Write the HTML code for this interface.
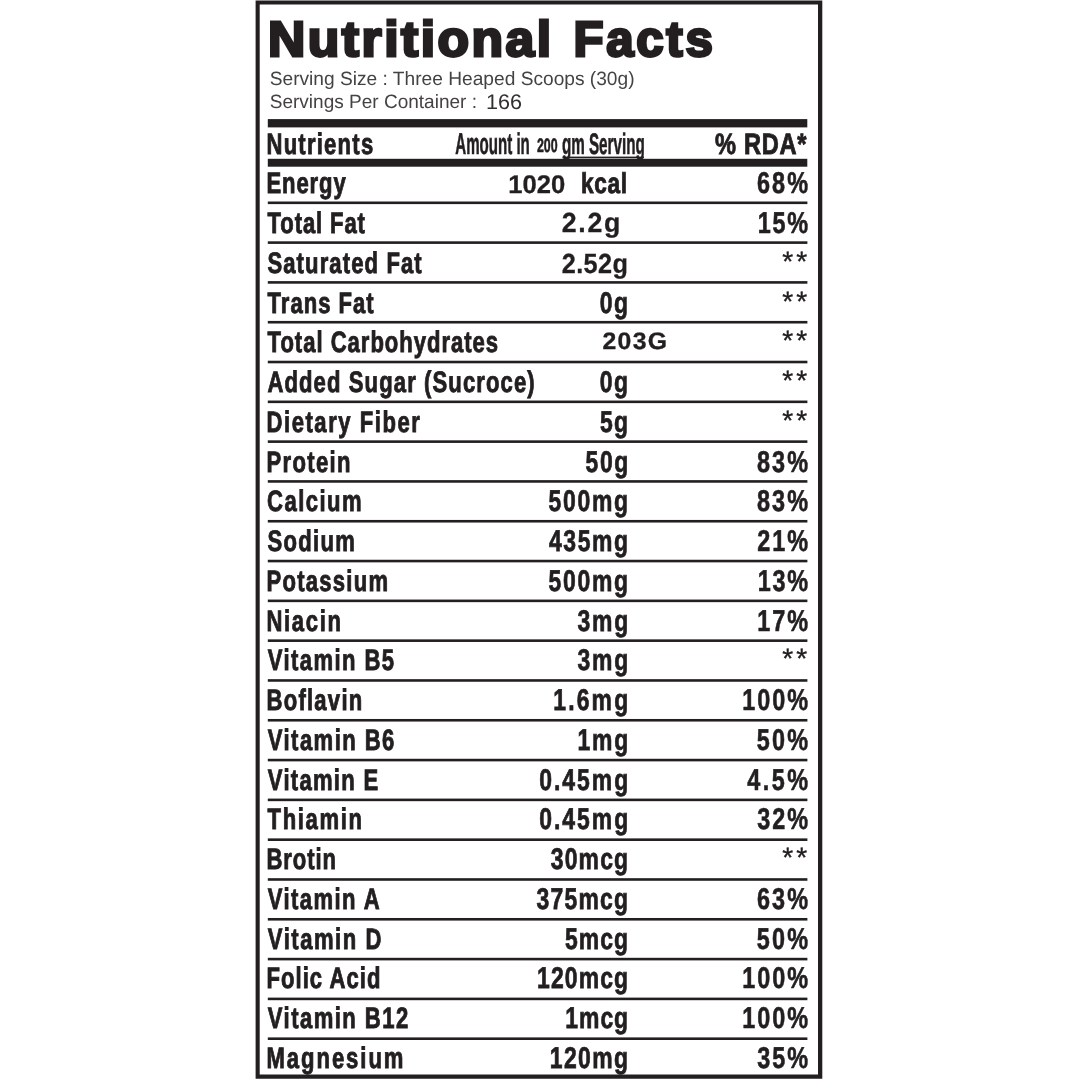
<!DOCTYPE html>
<html lang="en"><head><meta charset="utf-8"><title>Nutritional Facts</title>
<style>
html,body{margin:0;padding:0;background:#fff;}
body{width:1080px;height:1080px;position:relative;overflow:hidden;}
</style></head><body>

<svg width="1080" height="1080" viewBox="0 0 1080 1080" font-family="'Liberation Sans',Arial,Helvetica,sans-serif" font-weight="bold" text-rendering="geometricPrecision" fill="#231f20" style="position:absolute;left:0;top:0;white-space:pre">
<path fill-rule="evenodd" d="M255.6 0.45H822.3V1078.7H255.6Z M259.7 4.4V1074.4H818.0V4.4Z"/>
<rect x="267.80" y="119.10" width="539.50" height="8.30"/>
<rect x="267.80" y="158.80" width="539.50" height="7.90"/>
<rect x="267.80" y="201.50" width="539.60" height="2.60"/>
<rect x="267.80" y="241.31" width="539.60" height="2.60"/>
<rect x="267.80" y="281.11" width="539.60" height="2.60"/>
<rect x="267.80" y="320.92" width="539.60" height="2.60"/>
<rect x="267.80" y="360.72" width="539.60" height="2.60"/>
<rect x="267.80" y="400.53" width="539.60" height="2.60"/>
<rect x="267.80" y="440.33" width="539.60" height="2.60"/>
<rect x="267.80" y="480.13" width="539.60" height="2.60"/>
<rect x="267.80" y="519.94" width="539.60" height="2.60"/>
<rect x="267.80" y="559.75" width="539.60" height="2.60"/>
<rect x="267.80" y="599.55" width="539.60" height="2.60"/>
<rect x="267.80" y="639.36" width="539.60" height="2.60"/>
<rect x="267.80" y="679.16" width="539.60" height="2.60"/>
<rect x="267.80" y="718.97" width="539.60" height="2.60"/>
<rect x="267.80" y="758.77" width="539.60" height="2.60"/>
<rect x="267.80" y="798.58" width="539.60" height="2.60"/>
<rect x="267.80" y="838.38" width="539.60" height="2.60"/>
<rect x="267.80" y="878.18" width="539.60" height="2.60"/>
<rect x="267.80" y="917.99" width="539.60" height="2.60"/>
<rect x="267.80" y="957.80" width="539.60" height="2.60"/>
<rect x="267.80" y="997.60" width="539.60" height="2.60"/>
<rect x="267.80" y="1037.40" width="539.60" height="2.60"/>
<rect x="562.40" y="156.60" width="81.50" height="1.70"/>
<text transform="translate(268.02,56) scale(1.0400,1)" font-size="49.7" stroke="#231f20" stroke-width="2.8" letter-spacing="2.383">Nutritional</text>
<text transform="translate(573.52,56) scale(0.9900,1)" font-size="49.7" stroke="#231f20" stroke-width="2.8" letter-spacing="2.708">Facts</text>
<text transform="translate(269.71,85) scale(0.9934,1)" font-size="19.3" font-weight="normal" fill="#454243">Serving Size : Three Heaped Scoops (30g)</text>
<text transform="translate(269.71,108) scale(0.9867,1)" font-size="19.3" font-weight="normal" fill="#454243">Servings Per Container :</text>
<text transform="translate(486.07,109) scale(1.0182,1)" font-size="21.2" font-weight="normal" fill="#333031">166</text>
<text transform="translate(266.48,154) scale(0.7450,1)" font-size="29.6" stroke="#231f20" stroke-width="0.9" letter-spacing="1.663">Nutrients</text>
<text transform="translate(455.25,154) scale(0.5026,1)" font-size="30.0" stroke="#231f20" stroke-width="0.6">Amount in</text>
<text transform="translate(536.98,152) scale(0.6349,1)" font-size="19.5" stroke="#231f20" stroke-width="0.6">200</text>
<text transform="translate(561.89,154) scale(0.5142,1)" font-size="29.6" stroke="#231f20" stroke-width="0.6">gm Serving</text>
<text transform="translate(715.00,154) scale(0.7974,1)" font-size="29.6" stroke="#231f20" stroke-width="0.9" letter-spacing="0.900">% RDA*</text>
<text transform="translate(266.48,193) scale(0.7450,1)" font-size="29.6" stroke="#231f20" stroke-width="0.9" letter-spacing="1.197">Energy</text>
<text transform="translate(757.01,193) scale(0.7800,1)" font-size="30.0" stroke="#231f20" stroke-width="0.6" letter-spacing="2.676">68%</text>
<text transform="translate(267.60,233) scale(0.7450,1)" font-size="29.6" stroke="#231f20" stroke-width="0.9" letter-spacing="1.186">Total Fat</text>
<text transform="translate(757.63,233) scale(0.7800,1)" font-size="30.0" stroke="#231f20" stroke-width="0.6" letter-spacing="2.282">15%</text>
<text transform="translate(267.41,273) scale(0.7450,1)" font-size="29.6" stroke="#231f20" stroke-width="0.9" letter-spacing="1.498">Saturated Fat</text>
<text transform="translate(782.35,271) scale(1.0062,1)" font-size="28.0" font-weight="normal" stroke="#231f20" stroke-width="0.35" letter-spacing="3.000">**</text>
<text transform="translate(267.60,313) scale(0.7450,1)" font-size="29.6" stroke="#231f20" stroke-width="0.9" letter-spacing="1.350">Trans Fat</text>
<text transform="translate(599.83,313) scale(0.7650,1)" font-size="30.0" stroke="#231f20" stroke-width="0.75" letter-spacing="1.891">0g</text>
<text transform="translate(782.35,311) scale(1.0062,1)" font-size="28.0" font-weight="normal" stroke="#231f20" stroke-width="0.35" letter-spacing="3.000">**</text>
<text transform="translate(267.60,352) scale(0.7450,1)" font-size="29.6" stroke="#231f20" stroke-width="0.9" letter-spacing="1.324">Total Carbohydrates</text>
<text transform="translate(782.35,350) scale(1.0062,1)" font-size="28.0" font-weight="normal" stroke="#231f20" stroke-width="0.35" letter-spacing="3.000">**</text>
<text transform="translate(267.41,392) scale(0.7450,1)" font-size="29.6" stroke="#231f20" stroke-width="0.9" letter-spacing="1.491">Added Sugar (Sucroce)</text>
<text transform="translate(599.83,392) scale(0.7650,1)" font-size="30.0" stroke="#231f20" stroke-width="0.75" letter-spacing="1.891">0g</text>
<text transform="translate(782.35,390) scale(1.0062,1)" font-size="28.0" font-weight="normal" stroke="#231f20" stroke-width="0.35" letter-spacing="3.000">**</text>
<text transform="translate(266.48,432) scale(0.7450,1)" font-size="29.6" stroke="#231f20" stroke-width="0.9" letter-spacing="2.089">Dietary Fiber</text>
<text transform="translate(600.02,432) scale(0.7650,1)" font-size="30.0" stroke="#231f20" stroke-width="0.75" letter-spacing="1.641">5g</text>
<text transform="translate(782.35,430) scale(1.0062,1)" font-size="28.0" font-weight="normal" stroke="#231f20" stroke-width="0.35" letter-spacing="3.000">**</text>
<text transform="translate(266.48,472) scale(0.7450,1)" font-size="29.6" stroke="#231f20" stroke-width="0.9" letter-spacing="1.822">Protein</text>
<text transform="translate(585.62,472) scale(0.7650,1)" font-size="30.0" stroke="#231f20" stroke-width="0.75" letter-spacing="1.982">50g</text>
<text transform="translate(757.01,472) scale(0.7800,1)" font-size="30.0" stroke="#231f20" stroke-width="0.6" letter-spacing="2.676">83%</text>
<text transform="translate(267.04,511) scale(0.7450,1)" font-size="29.6" stroke="#231f20" stroke-width="0.9" letter-spacing="1.950">Calcium</text>
<text transform="translate(548.62,511) scale(0.7650,1)" font-size="30.0" stroke="#231f20" stroke-width="0.75" letter-spacing="2.208">500mg</text>
<text transform="translate(757.01,511) scale(0.7800,1)" font-size="30.0" stroke="#231f20" stroke-width="0.6" letter-spacing="2.676">83%</text>
<text transform="translate(267.41,551) scale(0.7450,1)" font-size="29.6" stroke="#231f20" stroke-width="0.9" letter-spacing="1.791">Sodium</text>
<text transform="translate(549.00,551) scale(0.7650,1)" font-size="30.0" stroke="#231f20" stroke-width="0.75" letter-spacing="2.083">435mg</text>
<text transform="translate(757.21,551) scale(0.7800,1)" font-size="30.0" stroke="#231f20" stroke-width="0.6" letter-spacing="2.548">21%</text>
<text transform="translate(266.48,591) scale(0.7450,1)" font-size="29.6" stroke="#231f20" stroke-width="0.9" letter-spacing="1.690">Potassium</text>
<text transform="translate(548.62,591) scale(0.7650,1)" font-size="30.0" stroke="#231f20" stroke-width="0.75" letter-spacing="2.208">500mg</text>
<text transform="translate(757.63,591) scale(0.7800,1)" font-size="30.0" stroke="#231f20" stroke-width="0.6" letter-spacing="2.282">13%</text>
<text transform="translate(266.48,631) scale(0.7450,1)" font-size="29.6" stroke="#231f20" stroke-width="0.9" letter-spacing="2.236">Niacin</text>
<text transform="translate(577.61,631) scale(0.7650,1)" font-size="30.0" stroke="#231f20" stroke-width="0.75" letter-spacing="2.217">3mg</text>
<text transform="translate(757.33,631) scale(0.7800,1)" font-size="30.0" stroke="#231f20" stroke-width="0.6" letter-spacing="2.474">17%</text>
<text transform="translate(267.79,670) scale(0.7450,1)" font-size="29.6" stroke="#231f20" stroke-width="0.9" letter-spacing="1.905">Vitamin B5</text>
<text transform="translate(577.61,670) scale(0.7650,1)" font-size="30.0" stroke="#231f20" stroke-width="0.75" letter-spacing="2.217">3mg</text>
<text transform="translate(782.35,668) scale(1.0062,1)" font-size="28.0" font-weight="normal" stroke="#231f20" stroke-width="0.35" letter-spacing="3.000">**</text>
<text transform="translate(266.48,710) scale(0.7450,1)" font-size="29.6" stroke="#231f20" stroke-width="0.9" letter-spacing="1.682">Boflavin</text>
<text transform="translate(553.25,710) scale(0.7650,1)" font-size="30.0" stroke="#231f20" stroke-width="0.75" letter-spacing="2.818">1.6mg</text>
<text transform="translate(742.13,710) scale(0.7800,1)" font-size="30.0" stroke="#231f20" stroke-width="0.6" letter-spacing="2.562">100%</text>
<text transform="translate(267.79,750) scale(0.7450,1)" font-size="29.6" stroke="#231f20" stroke-width="0.9" letter-spacing="1.933">Vitamin B6</text>
<text transform="translate(577.45,750) scale(0.7650,1)" font-size="30.0" stroke="#231f20" stroke-width="0.75" letter-spacing="2.319">1mg</text>
<text transform="translate(756.81,750) scale(0.7800,1)" font-size="30.0" stroke="#231f20" stroke-width="0.6" letter-spacing="2.804">50%</text>
<text transform="translate(267.79,790) scale(0.7450,1)" font-size="29.6" stroke="#231f20" stroke-width="0.9" letter-spacing="1.721">Vitamin E</text>
<text transform="translate(539.13,790) scale(0.7650,1)" font-size="30.0" stroke="#231f20" stroke-width="0.75" letter-spacing="2.597">0.45mg</text>
<text transform="translate(747.30,790) scale(0.7800,1)" font-size="30.0" stroke="#231f20" stroke-width="0.6" letter-spacing="3.184">4.5%</text>
<text transform="translate(267.60,829) scale(0.7450,1)" font-size="29.6" stroke="#231f20" stroke-width="0.9" letter-spacing="2.183">Thiamin</text>
<text transform="translate(539.13,829) scale(0.7650,1)" font-size="30.0" stroke="#231f20" stroke-width="0.75" letter-spacing="2.597">0.45mg</text>
<text transform="translate(757.21,829) scale(0.7800,1)" font-size="30.0" stroke="#231f20" stroke-width="0.6" letter-spacing="2.551">32%</text>
<text transform="translate(266.48,869) scale(0.7450,1)" font-size="29.6" stroke="#231f20" stroke-width="0.9" letter-spacing="1.244">Brotin</text>
<text transform="translate(550.71,869) scale(0.7650,1)" font-size="30.0" stroke="#231f20" stroke-width="0.75" letter-spacing="1.524">30mcg</text>
<text transform="translate(782.35,867) scale(1.0062,1)" font-size="28.0" font-weight="normal" stroke="#231f20" stroke-width="0.35" letter-spacing="3.000">**</text>
<text transform="translate(267.79,909) scale(0.7450,1)" font-size="29.6" stroke="#231f20" stroke-width="0.9" letter-spacing="1.917">Vitamin A</text>
<text transform="translate(536.41,909) scale(0.7650,1)" font-size="30.0" stroke="#231f20" stroke-width="0.75" letter-spacing="1.608">375mcg</text>
<text transform="translate(757.01,909) scale(0.7800,1)" font-size="30.0" stroke="#231f20" stroke-width="0.6" letter-spacing="2.676">63%</text>
<text transform="translate(267.79,949) scale(0.7450,1)" font-size="29.6" stroke="#231f20" stroke-width="0.9" letter-spacing="2.056">Vitamin D</text>
<text transform="translate(564.92,949) scale(0.7650,1)" font-size="30.0" stroke="#231f20" stroke-width="0.75" letter-spacing="1.424">5mcg</text>
<text transform="translate(756.81,949) scale(0.7800,1)" font-size="30.0" stroke="#231f20" stroke-width="0.6" letter-spacing="2.804">50%</text>
<text transform="translate(266.48,988) scale(0.7450,1)" font-size="29.6" stroke="#231f20" stroke-width="0.9" letter-spacing="1.394">Folic Acid</text>
<text transform="translate(537.05,988) scale(0.7650,1)" font-size="30.0" stroke="#231f20" stroke-width="0.75" letter-spacing="1.440">120mcg</text>
<text transform="translate(742.13,988) scale(0.7800,1)" font-size="30.0" stroke="#231f20" stroke-width="0.6" letter-spacing="2.562">100%</text>
<text transform="translate(267.79,1028) scale(0.7450,1)" font-size="29.6" stroke="#231f20" stroke-width="0.9" letter-spacing="1.954">Vitamin B12</text>
<text transform="translate(565.25,1028) scale(0.7650,1)" font-size="30.0" stroke="#231f20" stroke-width="0.75" letter-spacing="1.278">1mcg</text>
<text transform="translate(742.13,1028) scale(0.7800,1)" font-size="30.0" stroke="#231f20" stroke-width="0.6" letter-spacing="2.562">100%</text>
<text transform="translate(266.48,1068) scale(0.7450,1)" font-size="29.6" stroke="#231f20" stroke-width="0.9" letter-spacing="2.634">Magnesium</text>
<text transform="translate(549.75,1068) scale(0.7650,1)" font-size="30.0" stroke="#231f20" stroke-width="0.75" letter-spacing="1.837">120mg</text>
<text transform="translate(757.21,1068) scale(0.7800,1)" font-size="30.0" stroke="#231f20" stroke-width="0.6" letter-spacing="2.551">35%</text>
<text transform="translate(508.30,193) scale(1.0000,1)" font-size="25.6" stroke="#231f20" stroke-width="0.3" letter-spacing="-0.033">1020</text>
<text transform="translate(581.02,193) scale(0.7850,1)" font-size="28.8" stroke="#231f20" stroke-width="0.9" letter-spacing="0.847">kcal</text>
<text transform="translate(561.77,232) scale(0.9700,1)" font-size="27.6" stroke="#231f20" stroke-width="0.3" letter-spacing="1.729">2.2g</text>
<text transform="translate(561.81,273) scale(0.9161,1)" font-size="27.6" stroke="#231f20" stroke-width="0.3" letter-spacing="0.400">2.52g</text>
<text transform="translate(602.52,349) scale(1.0400,1)" font-size="23.8" stroke="#231f20" stroke-width="0.35" letter-spacing="1.282">203G</text>
</svg>
</body></html>
